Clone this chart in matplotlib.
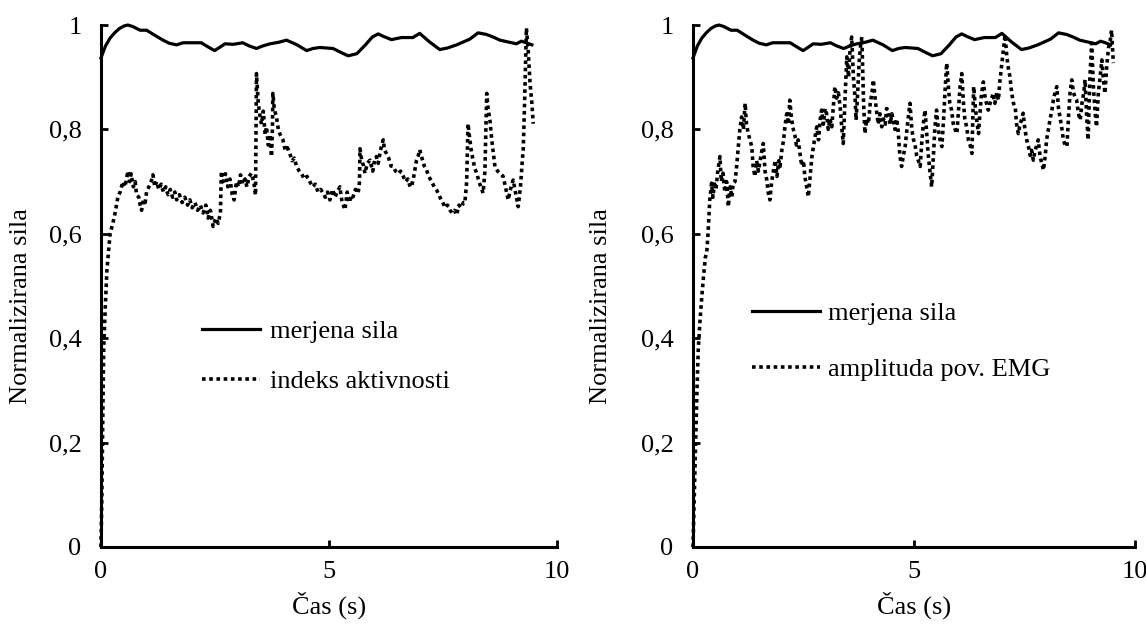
import matplotlib

matplotlib.use("Agg")
import matplotlib.pyplot as plt

plt.rcParams["font.family"] = ["Liberation Serif", "DejaVu Serif"]
plt.rcParams["font.size"] = 19

# measured force (same recording in both panels)
force_t = [0.00, 0.10, 0.20, 0.30, 0.40, 0.50, 0.59, 0.70, 0.86, 1.00, 1.15, 1.36, 1.50,
           1.66, 1.80, 2.20, 2.35, 2.49, 2.60, 2.72, 2.90, 3.11, 3.25, 3.41, 3.55, 3.71,
           3.90, 4.07, 4.30, 4.51, 4.65, 4.80, 5.09, 5.25, 5.42, 5.61, 5.80, 5.95, 6.08,
           6.20, 6.37, 6.59, 6.84, 6.99, 7.20, 7.43, 7.60, 7.80, 8.09, 8.27, 8.45, 8.60,
           8.75, 9.11, 9.22, 9.33, 9.45]
force_v = [0.937, 0.960, 0.975, 0.985, 0.993, 0.998, 1.000, 0.997, 0.990, 0.990, 0.982,
           0.971, 0.965, 0.962, 0.966, 0.966, 0.958, 0.951, 0.957, 0.964, 0.963, 0.966,
           0.960, 0.955, 0.960, 0.964, 0.967, 0.971, 0.962, 0.951, 0.955, 0.957, 0.955,
           0.948, 0.941, 0.945, 0.962, 0.977, 0.983, 0.978, 0.972, 0.976, 0.976, 0.984,
           0.968, 0.953, 0.956, 0.962, 0.973, 0.985, 0.982, 0.977, 0.971, 0.964, 0.969,
           0.966, 0.962]

# activity index
idx_t = [0.00, 0.02, 0.04, 0.06, 0.09, 0.13, 0.20, 0.26, 0.31, 0.37, 0.42, 0.48, 0.53,
         0.59, 0.63, 0.66, 0.71, 0.75, 0.78, 0.83, 0.86, 0.89, 0.93, 0.97, 1.00, 1.05,
         1.10, 1.14, 1.18, 1.22, 1.27, 1.32, 1.37, 1.42, 1.47, 1.52, 1.57, 1.62, 1.66,
         1.72, 1.78, 1.84, 1.90, 1.95, 2.00, 2.06, 2.12, 2.18, 2.24, 2.30, 2.35, 2.40,
         2.46, 2.52, 2.57, 2.62, 2.64, 2.68, 2.73, 2.78, 2.83, 2.88, 2.92, 2.97, 3.02,
         3.06, 3.11, 3.16, 3.20, 3.25, 3.30, 3.35, 3.39, 3.41, 3.45, 3.48, 3.52, 3.56,
         3.60, 3.63, 3.67, 3.71, 3.74, 3.76, 3.77, 3.80, 3.85, 3.89, 3.93, 3.99, 4.04,
         4.09, 4.14, 4.19, 4.24, 4.29, 4.35, 4.40, 4.46, 4.52, 4.58, 4.64, 4.70, 4.76,
         4.82, 4.87, 4.92, 4.97, 5.02, 5.08, 5.13, 5.18, 5.24, 5.28, 5.35, 5.40, 5.45,
         5.50, 5.53, 5.58, 5.64, 5.67, 5.68, 5.72, 5.76, 5.79, 5.84, 5.90, 5.96, 6.00,
         6.04, 6.08, 6.13, 6.19, 6.22, 6.26, 6.31, 6.36, 6.41, 6.46, 6.52, 6.57, 6.63,
         6.68, 6.73, 6.78, 6.81, 6.86, 6.92, 6.96, 6.99, 7.04, 7.09, 7.14, 7.19, 7.25,
         7.31, 7.36, 7.41, 7.46, 7.50, 7.55, 7.60, 7.65, 7.70, 7.75, 7.80, 7.85, 7.90,
         7.95, 7.98, 8.02, 8.05, 8.09, 8.12, 8.16, 8.20, 8.24, 8.29, 8.33, 8.38, 8.42,
         8.46, 8.49, 8.53, 8.57, 8.61, 8.64, 8.70, 8.76, 8.82, 8.87, 8.93, 8.98, 9.04,
         9.09, 9.15, 9.20, 9.24, 9.26, 9.29, 9.33, 9.37, 9.41, 9.45, 9.48]
idx_v = [0.000, 0.100, 0.250, 0.380, 0.450, 0.530, 0.600, 0.620, 0.640, 0.670, 0.680,
         0.700, 0.690, 0.720, 0.700, 0.715, 0.690, 0.700, 0.675, 0.670, 0.655, 0.645,
         0.665, 0.660, 0.680, 0.690, 0.700, 0.713, 0.690, 0.700, 0.685, 0.695, 0.680,
         0.690, 0.675, 0.685, 0.670, 0.680, 0.665, 0.675, 0.660, 0.670, 0.655, 0.665,
         0.650, 0.660, 0.645, 0.655, 0.640, 0.655, 0.630, 0.645, 0.614, 0.630, 0.620,
         0.640, 0.720, 0.700, 0.715, 0.690, 0.705, 0.675, 0.665, 0.700, 0.690, 0.713,
         0.695, 0.705, 0.690, 0.710, 0.716, 0.700, 0.674, 0.907, 0.850, 0.830, 0.810,
         0.835, 0.790, 0.805, 0.770, 0.790, 0.748, 0.800, 0.869, 0.840, 0.823, 0.800,
         0.790, 0.780, 0.760, 0.765, 0.754, 0.740, 0.745, 0.729, 0.720, 0.715, 0.705,
         0.710, 0.700, 0.690, 0.695, 0.680, 0.685, 0.678, 0.670, 0.680, 0.665, 0.685,
         0.670, 0.680, 0.690, 0.665, 0.646, 0.680, 0.660, 0.675, 0.671, 0.685, 0.678,
         0.700, 0.763, 0.740, 0.730, 0.716, 0.735, 0.741, 0.720, 0.740, 0.748, 0.735,
         0.760, 0.780, 0.760, 0.754, 0.745, 0.730, 0.729, 0.720, 0.715, 0.720, 0.710,
         0.700, 0.705, 0.690, 0.690, 0.710, 0.741, 0.750, 0.761, 0.745, 0.730, 0.722,
         0.710, 0.700, 0.690, 0.684, 0.675, 0.665, 0.659, 0.650, 0.655, 0.646, 0.640,
         0.645, 0.636, 0.655, 0.650, 0.660, 0.659, 0.700, 0.811, 0.780, 0.760, 0.741,
         0.725, 0.716, 0.700, 0.690, 0.678, 0.720, 0.869, 0.840, 0.818, 0.780, 0.750,
         0.729, 0.720, 0.715, 0.710, 0.690, 0.665, 0.685, 0.703, 0.680, 0.652, 0.690,
         0.740, 0.761, 0.850, 0.994, 0.950, 0.888, 0.850, 0.811]

# surface EMG amplitude
emg_t = [0.00, 0.03, 0.06, 0.09, 0.12, 0.16, 0.20, 0.24, 0.28, 0.31, 0.34, 0.38, 0.42,
         0.45, 0.49, 0.52, 0.56, 0.61, 0.64, 0.68, 0.72, 0.76, 0.80, 0.84, 0.88, 0.91,
         0.95, 0.98, 1.02, 1.06, 1.10, 1.14, 1.18, 1.21, 1.25, 1.29, 1.33, 1.36, 1.40,
         1.44, 1.48, 1.52, 1.56, 1.59, 1.63, 1.67, 1.70, 1.74, 1.78, 1.82, 1.86, 1.90,
         1.94, 1.97, 2.01, 2.05, 2.08, 2.12, 2.16, 2.19, 2.23, 2.27, 2.30, 2.34, 2.38,
         2.42, 2.46, 2.50, 2.53, 2.57, 2.61, 2.65, 2.69, 2.73, 2.77, 2.80, 2.84, 2.88,
         2.91, 2.95, 2.99, 3.02, 3.06, 3.10, 3.14, 3.18, 3.21, 3.25, 3.29, 3.33, 3.37,
         3.40, 3.44, 3.48, 3.52, 3.55, 3.59, 3.63, 3.67, 3.69, 3.72, 3.76, 3.79, 3.82,
         3.86, 3.89, 3.93, 3.97, 4.01, 4.05, 4.08, 4.12, 4.15, 4.19, 4.23, 4.27, 4.31,
         4.35, 4.38, 4.42, 4.46, 4.50, 4.53, 4.57, 4.61, 4.64, 4.68, 4.72, 4.76, 4.80,
         4.84, 4.88, 4.91, 4.95, 4.99, 5.02, 5.06, 5.10, 5.14, 5.18, 5.21, 5.25, 5.29,
         5.32, 5.36, 5.40, 5.44, 5.47, 5.51, 5.55, 5.59, 5.63, 5.67, 5.70, 5.74, 5.78,
         5.81, 5.85, 5.89, 5.93, 5.97, 6.01, 6.04, 6.08, 6.12, 6.15, 6.19, 6.23, 6.27,
         6.31, 6.33, 6.35, 6.39, 6.43, 6.46, 6.50, 6.53, 6.57, 6.61, 6.64, 6.68, 6.72,
         6.76, 6.79, 6.83, 6.87, 6.91, 6.94, 6.98, 7.02, 7.06, 7.10, 7.13, 7.17, 7.21,
         7.25, 7.29, 7.32, 7.36, 7.40, 7.44, 7.47, 7.51, 7.55, 7.59, 7.63, 7.66, 7.70,
         7.74, 7.78, 7.81, 7.85, 7.89, 7.93, 7.97, 8.00, 8.04, 8.08, 8.12, 8.16, 8.19,
         8.23, 8.27, 8.31, 8.34, 8.38, 8.42, 8.46, 8.50, 8.53, 8.57, 8.61, 8.65, 8.68,
         8.72, 8.76, 8.80, 8.84, 8.87, 8.91, 8.94, 8.98, 9.02, 9.06, 9.10, 9.13, 9.17,
         9.21, 9.25, 9.28, 9.32, 9.36, 9.40, 9.44, 9.47, 9.51]
emg_v = [0.000, 0.100, 0.200, 0.300, 0.380, 0.435, 0.480, 0.520, 0.555, 0.563, 0.600,
         0.665, 0.697, 0.670, 0.700, 0.684, 0.720, 0.748, 0.700, 0.716, 0.680, 0.700,
         0.652, 0.690, 0.670, 0.697, 0.700, 0.722, 0.760, 0.800, 0.824, 0.800, 0.850,
         0.810, 0.792, 0.780, 0.767, 0.730, 0.710, 0.740, 0.720, 0.741, 0.760, 0.773,
         0.720, 0.703, 0.680, 0.665, 0.700, 0.720, 0.741, 0.710, 0.740, 0.729, 0.760,
         0.780, 0.805, 0.830, 0.810, 0.856, 0.820, 0.800, 0.792, 0.770, 0.780, 0.754,
         0.730, 0.740, 0.710, 0.690, 0.671, 0.710, 0.748, 0.770, 0.790, 0.805, 0.780,
         0.820, 0.837, 0.810, 0.840, 0.831, 0.800, 0.820, 0.805, 0.850, 0.882, 0.860,
         0.870, 0.843, 0.800, 0.773, 0.860, 0.939, 0.900, 0.950, 0.977, 0.900, 0.856,
         0.818, 0.860, 0.930, 0.960, 0.977, 0.850, 0.792, 0.820, 0.811, 0.850, 0.870,
         0.895, 0.860, 0.837, 0.810, 0.830, 0.805, 0.820, 0.810, 0.840, 0.837, 0.810,
         0.830, 0.818, 0.800, 0.820, 0.799, 0.750, 0.729, 0.750, 0.767, 0.800, 0.830,
         0.850, 0.800, 0.780, 0.773, 0.750, 0.740, 0.729, 0.780, 0.810, 0.837, 0.790,
         0.754, 0.720, 0.690, 0.750, 0.800, 0.837, 0.800, 0.780, 0.767, 0.820, 0.870,
         0.927, 0.880, 0.850, 0.837, 0.810, 0.800, 0.792, 0.840, 0.880, 0.907, 0.850,
         0.820, 0.805, 0.780, 0.770, 0.754, 0.820, 0.882, 0.840, 0.810, 0.792, 0.840,
         0.870, 0.891, 0.860, 0.850, 0.837, 0.850, 0.860, 0.869, 0.850, 0.870, 0.856,
         0.890, 0.920, 0.950, 0.981, 0.940, 0.920, 0.901, 0.870, 0.850, 0.843, 0.810,
         0.792, 0.810, 0.820, 0.831, 0.800, 0.780, 0.767, 0.750, 0.760, 0.741, 0.760,
         0.770, 0.780, 0.750, 0.735, 0.722, 0.750, 0.780, 0.800, 0.820, 0.837, 0.860,
         0.870, 0.882, 0.840, 0.820, 0.805, 0.780, 0.770, 0.767, 0.830, 0.870, 0.895,
         0.870, 0.860, 0.856, 0.830, 0.818, 0.850, 0.870, 0.895, 0.820, 0.780, 0.900,
         0.965, 0.880, 0.830, 0.805, 0.869, 0.900, 0.933, 0.900, 0.869, 0.920, 0.956,
         0.970, 0.990, 0.927]

y_ticks = [0, 0.2, 0.4, 0.6, 0.8, 1.0]
y_labels = ["0", "0,2", "0,4", "0,6", "0,8", "1"]
x_ticks = [0, 5, 10]
x_labels = ["0", "5", "10"]

DOT = (0, (1, 1))


def style_axes(ax):
    ax.set_xlim(0, 10)
    ax.set_ylim(0, 1)
    for side in ("top", "right"):
        ax.spines[side].set_visible(False)
    for side in ("left", "bottom"):
        ax.spines[side].set_linewidth(2.2)
    ax.set_xticks(x_ticks)
    ax.set_xticklabels(x_labels)
    ax.set_yticks(y_ticks)
    ax.set_yticklabels(y_labels)
    ax.tick_params(direction="in", length=5, width=2, pad=10, labelsize=19)
    ax.tick_params(axis="y", pad=14)
    ax.set_xlabel("Čas (s)", fontsize=19)
    ax.set_ylabel("Normalizirana sila", fontsize=19)
    ax.xaxis.set_label_coords(0.5, -0.085)
    ax.xaxis.label.set_verticalalignment("top")


fig = plt.figure(figsize=(11.46, 6.27), dpi=100)

ax1 = fig.add_axes([0.0881, 0.1276, 0.3979, 0.8325])
ax1.plot(force_t, force_v, color="black", lw=2.3, clip_on=False, label="merjena sila")
ax1.plot(idx_t, idx_v, color="black", lw=2.6, ls=DOT, clip_on=False, label="indeks aktivnosti")
style_axes(ax1)
ax1.yaxis.set_label_coords(-0.152, 0.462)
ax1.legend(loc="upper left", bbox_to_anchor=(0.221, 0.435), frameon=False, fontsize=19,
           handlelength=2.2, handletextpad=0.4, labelspacing=0.98, borderpad=0,
           borderaxespad=0)

ax2 = fig.add_axes([0.6047, 0.1276, 0.3857, 0.8325])
ax2.plot(force_t, force_v, color="black", lw=2.3, clip_on=False, label="merjena sila")
ax2.plot(emg_t, emg_v, color="black", lw=2.6, ls=DOT, clip_on=False, label="amplituda pov. EMG")
style_axes(ax2)
ax2.yaxis.set_label_coords(-0.183, 0.462)
ax2.legend(loc="upper left", bbox_to_anchor=(0.133, 0.47), frameon=False, fontsize=19,
           handlelength=2.6, handletextpad=0.3, labelspacing=1.22, borderpad=0,
           borderaxespad=0)

fig.savefig("out.png", dpi=100)
